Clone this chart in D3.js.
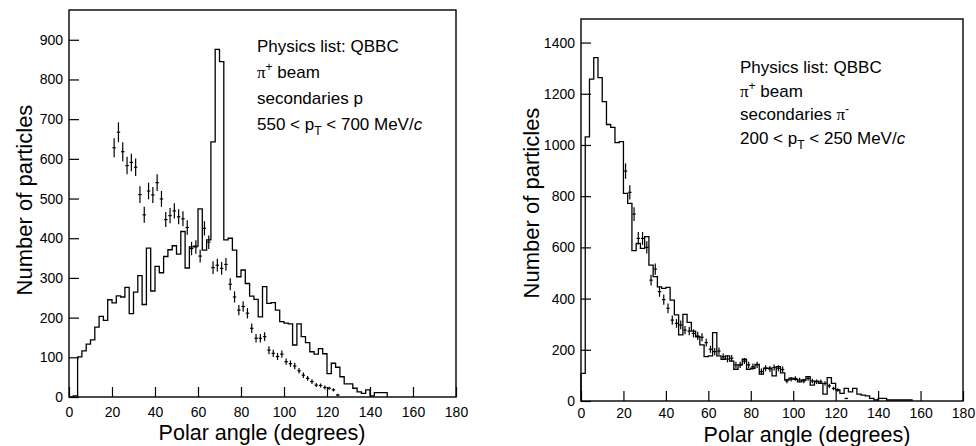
<!DOCTYPE html>
<html>
<head>
<meta charset="utf-8">
<script src="https://cdn.jsdelivr.net/npm/d3@7"></script>
<style>
  body { margin: 0; background: #fff; }
  svg text { font-family: 'Liberation Sans', Arial, Helvetica, sans-serif; fill: #000; }
</style>
</head>
<body>
<div id="chart"></div>
<script>
// bins are 2 degrees wide, starting at 0
const bin_width = 2;

// left panel: p secondaries, 550 < pT < 700 MeV/c
const left_hist = [0, 3, 101, 116, 133, 144, 176, 203, 193, 245,
    237, 255, 252, 276, 210, 264, 306, 233, 375, 267,
    329, 313, 354, 371, 381, 360, 417, 325, 378, 380,
    474, 370, 396, 643, 876, 845, 396, 400, 370, 303,
    320, 286, 254, 246, 202, 278, 236, 238, 219, 190,
    186, 184, 131, 184, 152, 137, 114, 108, 122, 109,
    59, 85, 75, 51, 33, 33, 22, 13, 9, 18,
    3, 11, 11, 11];
const left_pts_angle = [21, 23, 25, 27, 29, 31, 33, 35, 37, 39,
    41, 43, 45, 47, 49, 51, 53, 55, 57, 59,
    61, 63, 65, 67, 69, 71, 73, 75, 77, 79,
    81, 83, 85, 87, 89, 91, 93, 95, 97, 99,
    101, 103, 105, 107, 109, 111, 113, 115, 117, 119,
    121, 123, 125];
const left_pts_value = [628, 667, 618, 583, 591, 579, 510, 459, 519, 509,
    540, 499, 447, 457, 469, 454, 449, 427, 374, 378,
    355, 425, 390, 326, 332, 324, 334, 284, 252, 219,
    228, 211, 173, 148, 148, 152, 118, 110, 102, 108,
    89, 84, 78, 66, 55, 47, 39, 30, 29, 24,
    22, 18, 5];
const left_pts_err = [24, 25, 24, 22, 22, 22, 21, 20, 21, 20,
    21, 20, 19, 19, 19, 19, 19, 18, 17, 17,
    16, 18, 17, 16, 16, 16, 16, 15, 14, 13,
    13, 13, 12, 11, 11, 11, 10, 9, 9, 9,
    8, 8, 8, 7, 7, 6, 6, 5, 5, 5,
    4, 4, 3];

// right panel: pi- secondaries, 200 < pT < 250 MeV/c
const right_hist = [108, 1032, 1257, 1341, 1263, 1169, 1080, 1069, 1009, 1013,
    811, 772, 587, 616, 596, 642, 531, 486, 446, 440,
    444, 394, 336, 258, 338, 307, 273, 251, 219, 173,
    176, 267, 176, 163, 176, 156, 124, 141, 163, 124,
    128, 143, 105, 128, 128, 98, 134, 110, 82, 89,
    85, 75, 82, 95, 62, 78, 69, 27, 91, 69,
    43, 30, 49, 36, 49, 27, 23, 20, 10, 4,
    10, 10, 4, 4, 4, 4, 4, 4];
const right_pts_angle = [21, 23, 25, 27, 29, 31, 33, 35, 37, 39,
    41, 43, 45, 47, 49, 51, 53, 55, 57, 59,
    61, 63, 65, 67, 69, 71, 73, 75, 77, 79,
    81, 83, 85, 87, 89, 91, 93, 95, 97, 99,
    101, 103, 105, 107, 109, 111, 113, 115, 117, 119,
    121, 125];
const right_pts_value = [898, 815, 730, 635, 635, 600, 472, 515, 427, 396,
    362, 316, 303, 297, 277, 273, 264, 254, 249, 228,
    202, 193, 195, 173, 164, 167, 141, 141, 156, 141,
    134, 141, 115, 128, 125, 131, 128, 123, 78, 85,
    88, 82, 78, 88, 78, 75, 75, 69, 59, 49,
    43, 10];
const right_pts_err = [30, 28, 27, 25, 25, 24, 21, 22, 20, 20,
    19, 18, 17, 17, 16, 16, 16, 16, 16, 15,
    14, 14, 14, 13, 13, 13, 12, 12, 12, 12,
    12, 12, 12, 12, 12, 12, 12, 12, 9, 9,
    9, 9, 9, 9, 9, 9, 9, 8, 8, 7,
    7, 3];

const x_ticks = [0, 20, 40, 60, 80, 100, 120, 140, 160, 180];
const left_y_ticks = [0, 100, 200, 300, 400, 500, 600, 700, 800, 900];
const right_y_ticks = [0, 200, 400, 600, 800, 1000, 1200, 1400];

const svg = d3.select('#chart').append('svg')
    .attr('width', 976)
    .attr('height', 446);

function hist_path(x, y, vals) {
    let pts = [[0, 0]];
    vals.forEach(function (v, i) {
        pts.push([i * bin_width, v]);
        pts.push([(i + 1) * bin_width, v]);
    });
    pts.push([vals.length * bin_width, 0]);
    return d3.line().x(d => x(d[0])).y(d => y(d[1]))(pts);
}

function draw_panel(p) {
    const g = svg.append('g');
    const x = d3.scaleLinear().domain([0, 180]).range([p.left, p.right]);
    const y = d3.scaleLinear().domain([0, p.ymax]).range([p.bottom, p.top]);

    // axes with inward ticks
    g.append('g')
        .attr('transform', 'translate(0,' + p.bottom + ')')
        .call(d3.axisBottom(x).tickValues(x_ticks).tickFormat(d3.format('d'))
            .tickSizeInner(-10).tickSizeOuter(0).tickPadding(p.tick_pad))
        .call(a => a.select('.domain').remove())
        .call(a => a.selectAll('line').attr('stroke', '#000').attr('stroke-width', 1.2))
        .call(a => a.selectAll('text').style('font-size', '14px').attr('fill', '#000'));

    g.append('g')
        .attr('transform', 'translate(' + p.left + ',0)')
        .call(d3.axisLeft(y).tickValues(p.y_ticks).tickFormat(d3.format('d'))
            .tickSizeInner(-10).tickSizeOuter(0).tickPadding(6))
        .call(a => a.select('.domain').remove())
        .call(a => a.selectAll('line').attr('stroke', '#000').attr('stroke-width', 1.2))
        .call(a => a.selectAll('text').style('font-size', '14px').attr('fill', '#000'));

    // frame
    g.append('rect')
        .attr('x', p.left).attr('y', p.top)
        .attr('width', p.right - p.left).attr('height', p.bottom - p.top)
        .attr('fill', 'none').attr('stroke', '#000').attr('stroke-width', 1.4);

    // histogram
    g.append('path')
        .attr('d', hist_path(x, y, p.hist))
        .attr('fill', 'none')
        .attr('stroke', '#000')
        .attr('stroke-width', 1.3);

    // data points with error bars
    const pts = g.append('g').attr('stroke', '#000').attr('stroke-width', 1.2);
    p.angle.forEach(function (a, i) {
        const v = p.value[i], e = p.err[i];
        pts.append('line')
            .attr('x1', x(a)).attr('x2', x(a))
            .attr('y1', y(Math.max(v - e, 0))).attr('y2', y(v + e));
        pts.append('line')
            .attr('x1', x(a - 0.8)).attr('x2', x(a + 0.8))
            .attr('y1', y(v)).attr('y2', y(v));
    });

    // axis titles
    g.append('text')
        .attr('transform', 'translate(' + p.ytitle_x + ',' + p.ytitle_y + ') rotate(-90)')
        .attr('text-anchor', 'middle')
        .style('font-size', '22px')
        .text('Number of particles');
    g.append('text')
        .attr('x', p.xtitle_x).attr('y', p.xtitle_y)
        .attr('text-anchor', 'middle')
        .style('font-size', '21.5px')
        .text('Polar angle (degrees)');

    // legend text
    const t = g.append('g').style('font-size', '17px');
    t.append('text').attr('x', p.text_x).attr('y', p.text_y[0]).text('Physics list: QBBC');
    let l2 = t.append('text').attr('x', p.text_x).attr('y', p.text_y[1]);
    l2.append('tspan').style('font-family', "'Liberation Serif', 'Times New Roman', serif").text('\u03c0');
    l2.append('tspan').attr('dy', -7).style('font-size', '12px').text('+');
    l2.append('tspan').attr('dy', 7).text(' beam');
    let l3 = t.append('text').attr('x', p.text_x).attr('y', p.text_y[2]);
    l3.append('tspan').text('secondaries ');
    if (p.secondary === 'p') {
        l3.append('tspan').text('p');
    } else {
        l3.append('tspan').style('font-family', "'Liberation Serif', 'Times New Roman', serif").text('\u03c0');
        l3.append('tspan').attr('dy', -7).style('font-size', '12px').text('-');
    }
    let l4 = t.append('text').attr('x', p.text_x).attr('y', p.text_y[3]);
    l4.append('tspan').text(p.pt_low + ' < p');
    l4.append('tspan').attr('dy', 5).style('font-size', '12px').text('T');
    l4.append('tspan').attr('dy', -5).text(' < ' + p.pt_high + ' MeV/');
    l4.append('tspan').style('font-style', 'italic').text('c');
}

draw_panel({
    left: 69, right: 456, top: 10, bottom: 397, ymax: 975, tick_pad: 10,
    y_ticks: left_y_ticks, hist: left_hist,
    angle: left_pts_angle, value: left_pts_value, err: left_pts_err,
    ytitle_x: 32, ytitle_y: 200, xtitle_x: 262, xtitle_y: 440,
    text_x: 257, text_y: [52, 78, 104, 130],
    secondary: 'p', pt_low: 550, pt_high: 700
});

draw_panel({
    left: 581, right: 963, top: 19, bottom: 401, ymax: 1492, tick_pad: 7,
    y_ticks: right_y_ticks, hist: right_hist,
    angle: right_pts_angle, value: right_pts_value, err: right_pts_err,
    ytitle_x: 539, ytitle_y: 203, xtitle_x: 807, xtitle_y: 441.5,
    text_x: 740, text_y: [73, 97, 120, 144],
    secondary: 'pi', pt_low: 200, pt_high: 250
});
</script>
</body>
</html>
